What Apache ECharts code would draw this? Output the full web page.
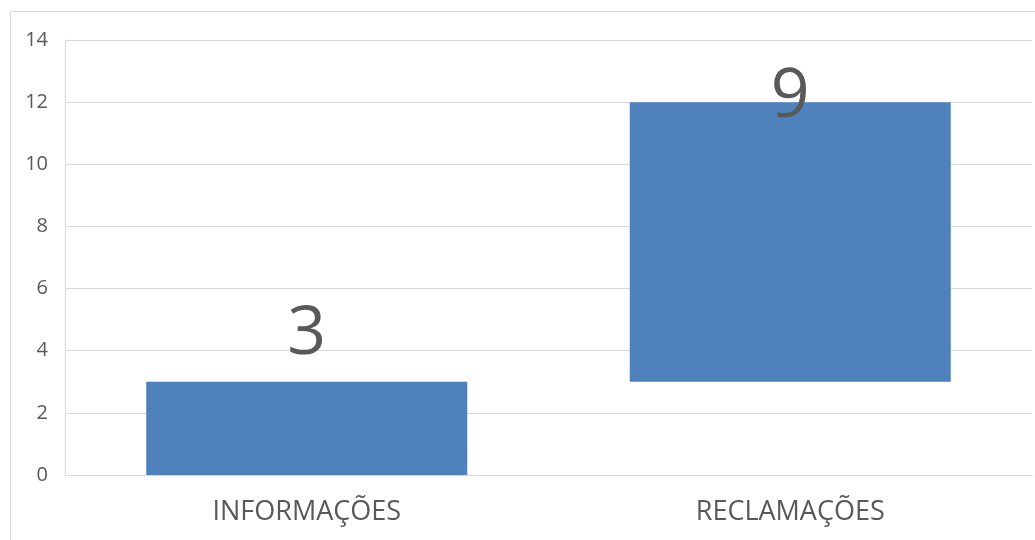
<!DOCTYPE html>
<html>
<head>
<meta charset="utf-8">
<script src="https://cdn.jsdelivr.net/npm/echarts@6/dist/echarts.min.js"></script>
<style>
html,body{margin:0;padding:0;background:#fff;}
#c{width:1035px;height:540px;}
</style>
</head>
<body>
<div id="c"></div>
<script>
var categories = ['INFORMAÇÕES', 'RECLAMAÇÕES'];
var baseValues = [0, 3];
var deltaValues = [3, 9];
var yTicks = { min: 0, max: 14, interval: 2 };

var chart = echarts.init(document.getElementById('c'), null, { renderer: 'canvas' });
var labelDistances = [13, -29];
var font = '"Open Sans", "Noto Sans", sans-serif';
chart.setOption({
  animation: false,
  backgroundColor: '#ffffff',
  graphic: [{
    type: 'rect',
    shape: { x: 10.5, y: 11.5, width: 1100, height: 600 },
    style: { fill: 'none', stroke: '#D9D9D9', lineWidth: 1 },
    silent: true
  }],
  grid: { left: 65, right: 3, top: 40, bottom: 65, containLabel: false },
  xAxis: {
    type: 'category',
    data: categories,
    axisLine: { show: true, lineStyle: { color: '#D9D9D9', width: 1 } },
    axisTick: { show: false },
    axisLabel: { color: '#595959', fontSize: 27, fontFamily: font, margin: 24 }
  },
  yAxis: {
    type: 'value',
    min: yTicks.min, max: yTicks.max, interval: yTicks.interval,
    axisLine: { show: true, lineStyle: { color: '#D9D9D9', width: 1 } },
    axisTick: { show: false },
    axisLabel: { color: '#595959', fontSize: 20, fontFamily: font, margin: 17 },
    splitLine: { show: true, lineStyle: { color: '#D9D9D9', width: 1 } }
  },
  series: [{
    type: 'bar',
    stack: 'w',
    data: baseValues,
    barWidth: 321,
    itemStyle: { color: 'transparent' },
    silent: true
  }, {
    type: 'bar',
    stack: 'w',
    data: deltaValues.map(function (v, i) {
      return { value: v, label: { distance: labelDistances[i] } };
    }),
    barWidth: 321,
    itemStyle: { color: '#4F81BD' },
    label: {
      show: true,
      position: 'top',
      color: '#595959',
      fontSize: 68,
      lineHeight: 68,
      fontFamily: font
    }
  }]
});
</script>
</body>
</html>
